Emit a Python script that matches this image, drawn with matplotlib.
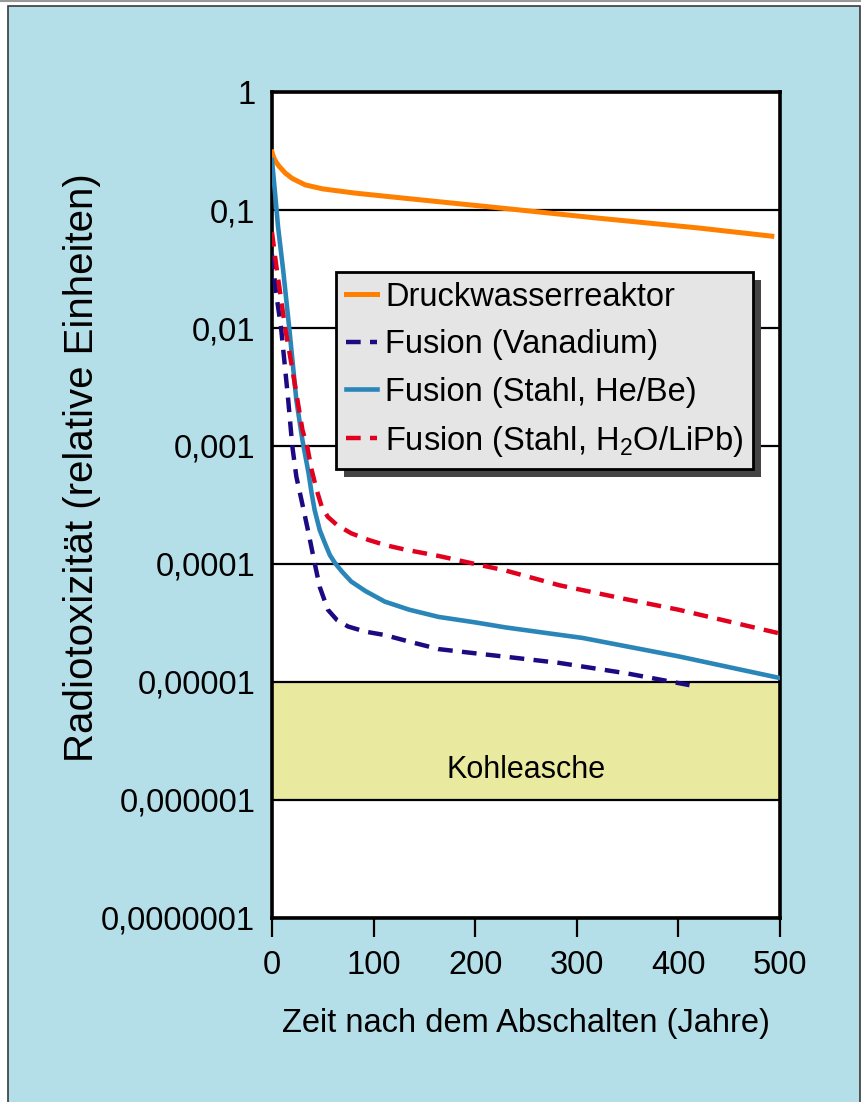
import matplotlib
matplotlib.use("Agg")
import matplotlib.pyplot as plt
from matplotlib.patches import Rectangle
from matplotlib.lines import Line2D
from matplotlib.ticker import NullLocator

plt.rcParams['font.family'] = ['Liberation Sans', 'DejaVu Sans']

# values (time in years, relative radiotoxicity)
t_dwr = [0, 1, 2, 4, 7, 10, 13, 20, 25, 33, 50, 82, 130, 225, 320, 420, 492]
v_dwr = [0.31, 0.29, 0.275, 0.255, 0.235, 0.22, 0.206, 0.185, 0.176, 0.163, 0.151, 0.139,
         0.126, 0.104, 0.0855, 0.0704, 0.060]

t_vanadium = [0, 4, 9, 16, 20, 24, 29, 36, 42, 47, 55, 64, 75, 92, 111, 135, 164, 200, 240,
              283, 350, 411]
v_vanadium = [0.042, 0.02, 0.01, 0.00245, 0.001, 0.00055, 0.00035, 0.000183, 0.000102, 0.000064,
              0.000041, 0.0000335, 0.0000295, 0.0000267, 0.000025, 0.000022, 0.000019,
              0.0000175, 0.000016, 0.0000145, 0.0000118, 0.0000094]

t_stahl_he = [0, 3, 6, 11, 17, 24, 30, 36, 39, 42, 47, 52, 57, 62, 69, 78, 92, 111, 135, 164,
              200, 230, 270, 306, 400, 500]
v_stahl_he = [0.265, 0.14, 0.072, 0.031, 0.01, 0.00245, 0.00112, 0.00059, 0.0004, 0.000287,
              0.000194, 0.000151, 0.000119, 0.000102, 0.000086, 0.000071, 0.000059, 0.000048,
              0.000041, 0.0000356, 0.000032, 0.000029, 0.000026, 0.0000236, 0.0000165,
              0.0000108]

t_stahl_h2o = [0, 4, 8, 13, 20, 26, 30, 35, 39, 44, 49, 55, 64, 78, 95, 111, 130, 164, 200, 230,
               283, 350, 400, 498]
v_stahl_h2o = [0.065, 0.035, 0.02, 0.01, 0.0045, 0.0022, 0.00137, 0.00096, 0.00063, 0.000424,
               0.000306, 0.000251, 0.000214, 0.000182, 0.00016, 0.000145, 0.000133, 0.000117,
               0.0001, 0.000088, 0.000066, 0.00005, 0.000041, 0.000026]

kohle_low, kohle_high = 1e-6, 1e-5

yticks = [1e-7, 1e-6, 1e-5, 1e-4, 1e-3, 1e-2, 1e-1, 1]
ytick_labels = ['0,0000001', '0,000001', '0,00001', '0,0001', '0,001', '0,01', '0,1', '1']
xticks = [0, 100, 200, 300, 400, 500]

fig = plt.figure(figsize=(8.62, 11.02), dpi=100)
fig.patch.set_facecolor('white')
fig.patches.append(Rectangle((8 / 862, -0.01), 852 / 862, 1.01 - 6 / 1102,
                             transform=fig.transFigure, facecolor='#b5dfe8',
                             edgecolor='#3a3a3a', lw=1.2, zorder=-10))
fig.lines.append(Line2D([0, 1], [1 - 1 / 1102, 1 - 1 / 1102], transform=fig.transFigure,
                        color='#999999', lw=1.5))

ax = fig.add_axes([0.3155, 0.167, 0.5893, 0.7495])
ax.set_facecolor('white')
ax.set_yscale('log')
ax.set_xlim(0, 500)
ax.set_ylim(1e-7, 1)

ax.axhspan(kohle_low, kohle_high, color='#e9e99f', zorder=0.5, lw=0)
ax.text(250, 10 ** -5.75, 'Kohleasche', ha='center', va='center', fontsize=22)

ax.plot(t_dwr, v_dwr, color='#ff8000', lw=3.6, label='Druckwasserreaktor', zorder=3)
ax.plot(t_vanadium, v_vanadium, color='#1b0a82', lw=3.2, dashes=(3.3, 2.1),
        label='Fusion (Vanadium)', zorder=3)
ax.plot(t_stahl_he, v_stahl_he, color='#2a86b8', lw=3.3, label='Fusion (Stahl, He/Be)', zorder=3)
ax.plot(t_stahl_h2o, v_stahl_h2o, color='#e1001e', lw=3.2, dashes=(3.3, 2.1),
        label='Fusion (Stahl, $\\mathregular{H_2O}$/LiPb)', zorder=3)

ax.set_yticks(yticks)
ax.set_yticklabels(ytick_labels)
ax.yaxis.set_minor_locator(NullLocator())
ax.set_xticks(xticks)
ax.tick_params(axis='y', length=0, pad=12, labelsize=23.5)
ax.tick_params(axis='x', direction='out', length=14, width=1.6, pad=9, labelsize=23.5)
ax.yaxis.grid(True, color='black', lw=1.6)
for s in ax.spines.values():
    s.set_linewidth(2.6)

ax.set_ylabel('Radiotoxizität (relative Einheiten)', fontsize=29)
ax.yaxis.set_label_coords(-0.337, 0.545)
ax.set_xlabel('Zeit nach dem Abschalten (Jahre)', fontsize=23.5)
ax.xaxis.set_label_coords(0.5, -0.109)

leg = ax.legend(loc='upper left', bbox_to_anchor=(0.126, 0.782), borderaxespad=0,
                fontsize=23.5, fancybox=False, framealpha=1, facecolor='#e5e5e5',
                edgecolor='black', handlelength=0.95, handletextpad=0.25,
                labelspacing=0.5, borderpad=0.3)
leg.get_frame().set_linewidth(2)
leg.set_zorder(6)

fig.canvas.draw()
bb = leg.get_window_extent().transformed(ax.transAxes.inverted())
dx = 8 / 508
dy = 8 / 826
ax.add_patch(Rectangle((bb.x0 + dx, bb.y0 - dy), bb.width, bb.height, transform=ax.transAxes,
                       facecolor='#444444', edgecolor='none', zorder=5.5, clip_on=False))

fig.savefig('out.png', dpi=100)
